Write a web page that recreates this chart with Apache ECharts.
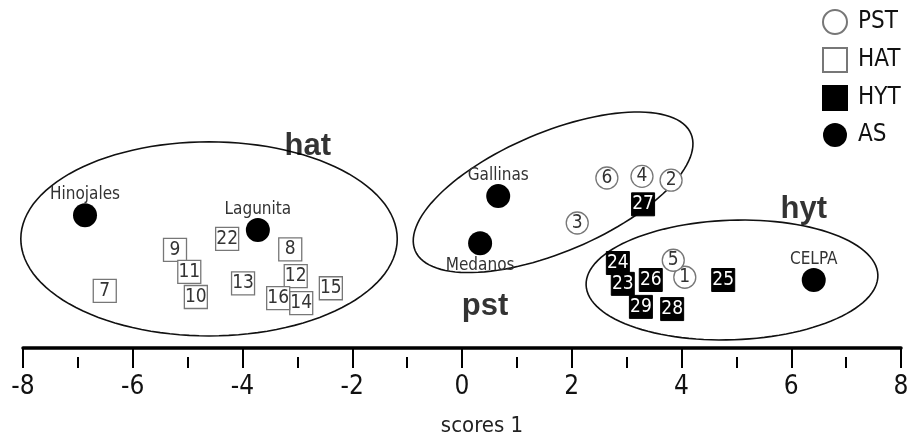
<!DOCTYPE html>
<html>
<head>
<meta charset="utf-8">
<script src="https://cdn.jsdelivr.net/npm/echarts@6/dist/echarts.min.js"></script>
<style>
  html, body { margin: 0; background: #fff; }
  #chart { width: 907px; height: 436px; }
</style>
</head>
<body>
<div id="chart"></div>
<script>
// scores: x = scores 1, y = scores 2 (y axis not drawn)
const pstIds = ['1', '2', '3', '4', '5', '6'];
const pstX = [4.06, 3.81, 2.10, 3.28, 3.85, 2.64];
const pstY = [-1.21, 0.56, -0.22, 0.63, -0.90, 0.60];

const hatIds = ['7', '8', '9', '10', '11', '12', '13', '14', '15', '16', '22'];
const hatX = [-6.51, -3.13, -5.23, -4.85, -4.97, -3.03, -3.99, -2.93, -2.39, -3.35, -4.28];
const hatY = [-1.46, -0.70, -0.71, -1.57, -1.11, -1.19, -1.32, -1.68, -1.41, -1.59, -0.51];

const hytIds = ['23', '24', '25', '26', '27', '28', '29'];
const hytX = [2.93, 2.84, 4.76, 3.44, 3.30, 3.83, 3.26];
const hytY = [-1.33, -0.95, -1.26, -1.26, 0.12, -1.79, -1.75];

const asNames = ['Hinojales', 'Lagunita', 'Gallinas', 'Medanos', 'CELPA'];
const asX = [-6.87, -3.72, 0.66, 0.33, 6.41];
const asY = [-0.08, -0.35, 0.27, -0.59, -1.26];

// group ellipses: centre x, centre y, semi-axis a, semi-axis b, tilt (deg)
const groupNames = ['hat', 'pst', 'hyt'];
const ellCX = [-4.61, 1.66, 4.92];
const ellCY = [-0.51, 0.34, -1.26];
const ellA = [3.43, 2.73, 2.66];
const ellB = [1.77, 1.09, 1.09];
const ellTilt = [0, 23, 2];
// where the group names sit
const groupLabelX = [-2.81, 0.42, 6.23];
const groupLabelY = [1.17, -1.74, 0.03];

const FONT = "'DejaVu Sans Condensed', 'DejaVu Sans', sans-serif";

function points(ids, xs, ys) {
  return ids.map((id, i) => ({ name: id, value: [xs[i], ys[i]] }));
}

function renderEllipse(params, api) {
  const cx = api.value(0), cy = api.value(1);
  const a = api.value(2), b = api.value(3);
  const t = api.value(4) * Math.PI / 180;
  const pts = [];
  for (let i = 0; i < 120; i++) {
    const u = i / 120 * 2 * Math.PI;
    const dx = a * Math.cos(u), dy = b * Math.sin(u);
    pts.push(api.coord([
      cx + dx * Math.cos(t) - dy * Math.sin(t),
      cy + dx * Math.sin(t) + dy * Math.cos(t)
    ]));
  }
  return {
    type: 'polygon',
    shape: { points: pts },
    style: { fill: 'none', stroke: '#111', lineWidth: 1.6 }
  };
}

const chart = echarts.init(document.getElementById('chart'));

const option = {
  animation: false,
  grid: { left: 23, right: 6, top: 19, bottom: 88, outerBoundsMode: 'none' },
  legend: {
    data: ['PST', 'HAT', 'HYT', 'AS'],
    orient: 'vertical',
    left: 822,
    top: 9,
    padding: 0,
    itemWidth: 24,
    itemHeight: 24,
    itemGap: 12,
    textStyle: { fontFamily: FONT, fontSize: 24, color: '#111', padding: [0, 0, 0, 6] }
  },
  xAxis: [
    {
      type: 'value',
      min: -8,
      max: 8,
      interval: 2,
      splitLine: { show: false },
      axisLine: { onZero: false, lineStyle: { color: '#000', width: 3.5 } },
      axisTick: { length: 20, lineStyle: { color: '#000', width: 2 } },
      axisLabel: { margin: 26, fontFamily: FONT, fontSize: 26, color: '#111' },
      name: 'scores 1',
      nameLocation: 'middle',
      nameGap: 67,
      nameTextStyle: { fontFamily: FONT, fontSize: 22, color: '#222', padding: [0, 0, 0, 40] }
    },
    {
      // short odd ticks, hanging below the axis line
      type: 'value',
      min: -8,
      max: 8,
      interval: 1,
      position: 'bottom',
      offset: 9,
      splitLine: { show: false },
      axisLine: { show: false, onZero: false },
      axisTick: { length: 11, lineStyle: { color: '#000', width: 2 } },
      axisLabel: { show: false }
    }
  ],
  yAxis: {
    type: 'value',
    min: -2.5,
    max: 3.5,
    show: false
  },
  series: [
    {
      type: 'custom',
      name: 'ellipses',
      renderItem: renderEllipse,
      data: groupNames.map((g, i) => [ellCX[i], ellCY[i], ellA[i], ellB[i], ellTilt[i]]),
      z: 1,
      silent: true
    },
    {
      type: 'scatter',
      name: 'groups',
      data: points(groupNames, groupLabelX, groupLabelY),
      symbolSize: 1,
      itemStyle: { color: 'rgba(0,0,0,0)' },
      label: {
        show: true,
        position: 'inside',
        formatter: '{b}',
        fontFamily: "'Liberation Sans', Arial, sans-serif",
        fontWeight: 'bold',
        fontSize: 31,
        color: '#000'
      },
      z: 2
    },
    {
      type: 'scatter',
      name: 'HAT',
      symbol: 'rect',
      symbolSize: 23,
      data: points(hatIds, hatX, hatY),
      itemStyle: { color: '#fff', borderColor: '#777', borderWidth: 1.3, opacity: 1 },
      label: { show: true, position: 'inside', formatter: '{b}', fontFamily: FONT, fontSize: 19, color: '#333' },
      z: 3
    },
    {
      type: 'scatter',
      name: 'HYT',
      symbol: 'rect',
      symbolSize: 23,
      data: points(hytIds, hytX, hytY),
      itemStyle: { color: '#000', borderColor: '#000', borderWidth: 1, opacity: 1 },
      label: { show: true, position: 'inside', formatter: '{b}', fontFamily: FONT, fontSize: 19, color: '#fff' },
      z: 4
    },
    {
      type: 'scatter',
      name: 'PST',
      symbol: 'circle',
      symbolSize: 22,
      data: points(pstIds, pstX, pstY),
      itemStyle: { color: '#fff', borderColor: '#777', borderWidth: 1.3, opacity: 1 },
      label: { show: true, position: 'inside', formatter: '{b}', fontFamily: FONT, fontSize: 19, color: '#333' },
      z: 5
    },
    {
      type: 'scatter',
      name: 'AS',
      symbol: 'circle',
      symbolSize: 24,
      data: asNames.map((n, i) => ({
        name: n,
        value: [asX[i], asY[i]],
        label: n === 'Medanos' ? { position: 'bottom', distance: 2 } : undefined
      })),
      itemStyle: { color: '#000', opacity: 1 },
      label: { show: true, position: 'top', distance: 0, formatter: '{b}', fontFamily: FONT, fontSize: 17, color: '#333' },
      z: 6
    }
  ]
};

chart.setOption(option);
</script>
</body>
</html>
